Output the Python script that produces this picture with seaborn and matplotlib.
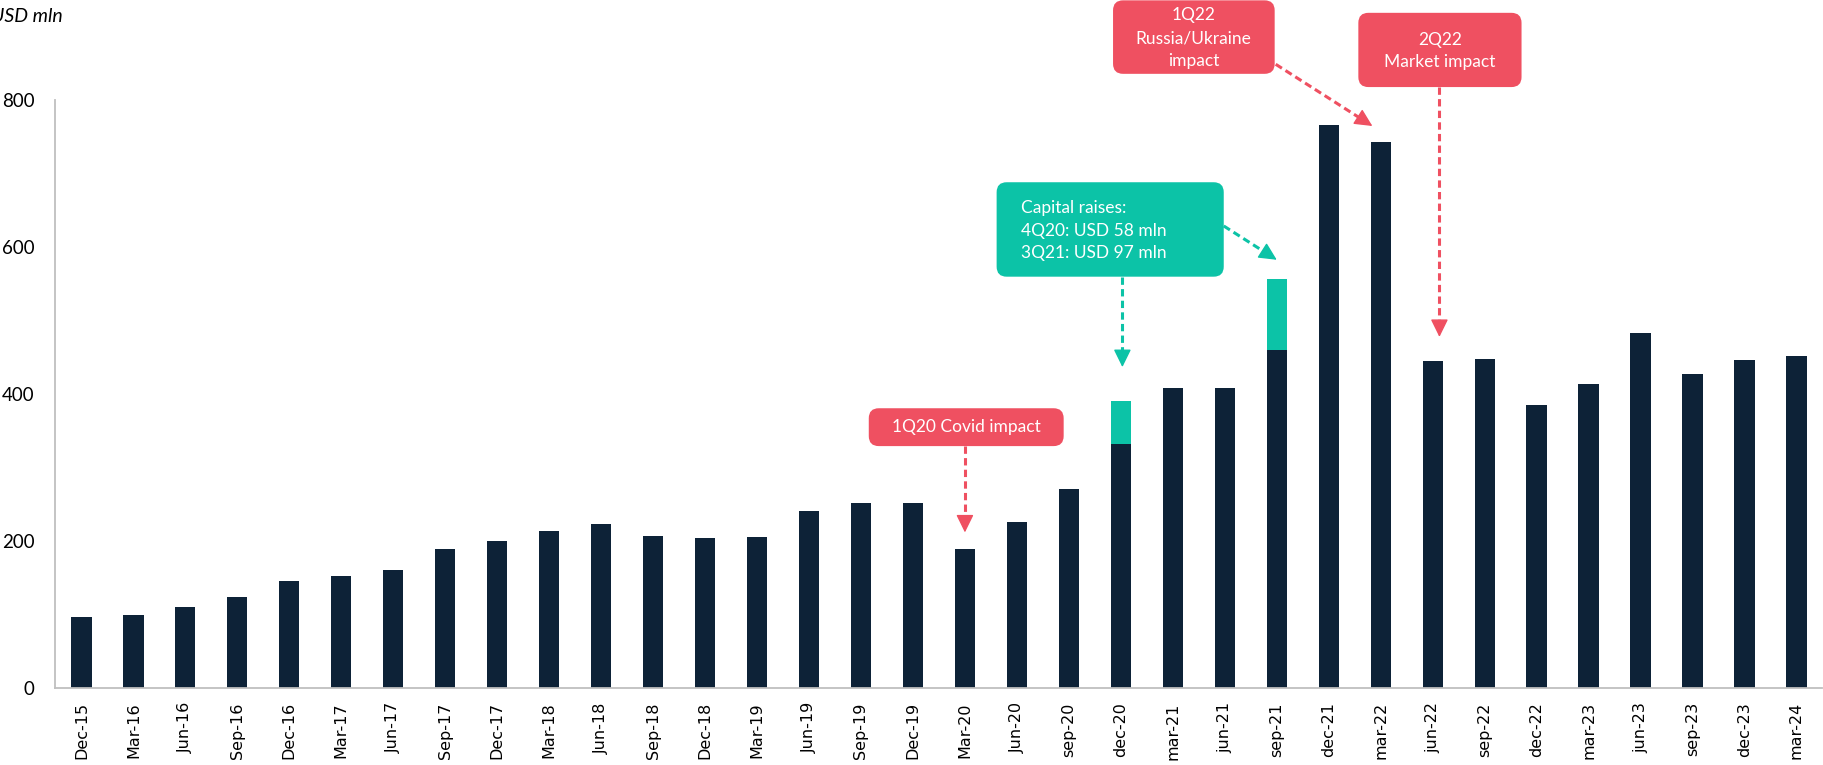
import numpy as np
import pandas as pd
import matplotlib
matplotlib.use("Agg")
import matplotlib.pyplot as plt
import seaborn as sns
from matplotlib.patches import FancyBboxPatch
from matplotlib.transforms import IdentityTransform

# ---------------- data ----------------
quarters = ["Dec-15", "Mar-16", "Jun-16", "Sep-16", "Dec-16", "Mar-17", "Jun-17", "Sep-17",
            "Dec-17", "Mar-18", "Jun-18", "Sep-18", "Dec-18", "Mar-19", "Jun-19", "Sep-19",
            "Dec-19", "Mar-20", "Jun-20", "sep-20", "dec-20", "mar-21", "jun-21", "sep-21",
            "dec-21", "mar-22", "jun-22", "sep-22", "dec-22", "mar-23", "jun-23", "sep-23",
            "dec-23", "mar-24"]
equity = [97, 100, 111, 124, 146, 153, 161, 189, 201, 214, 223, 207, 204, 206, 241, 252,
          252, 189, 226, 271, 333, 408, 408, 460, 767, 743, 445, 448, 386, 414, 483, 427,
          446, 452]
capital_raise = [0] * 20 + [58, 0, 0, 97] + [0] * 10
yticks = [0, 200, 400, 600, 800]

NAVY = "#0D2237"
TEAL = "#0CC3A7"
RED = "#EF5061"
GREY = "#BFBFBF"

df = pd.DataFrame({"quarter": quarters, "equity": equity, "capital": capital_raise})
df["total"] = df["equity"] + df["capital"]

sns.set_theme(style="white")
plt.rcParams["font.family"] = ["Lato", "DejaVu Sans"]

fig = plt.figure(figsize=(18.23, 7.65), dpi=100)
ax = fig.add_axes([0.0304, 0.1003, 0.9693, 0.7686])

sns.barplot(data=df, x="quarter", y="total", color=TEAL, saturation=1, width=0.39,
            errorbar=None, ax=ax, zorder=2, edgecolor="none", linewidth=0)
sns.barplot(data=df, x="quarter", y="equity", color=NAVY, saturation=1, width=0.39,
            errorbar=None, ax=ax, zorder=2, edgecolor="none", linewidth=0)

ax.set_xlim(-0.5, len(quarters) - 0.5)
ax.set_ylim(0, 800)
ax.set_yticks(yticks)
ax.set_yticklabels([str(v) for v in yticks])
ax.set_xlabel("")
ax.set_ylabel("")
ax.tick_params(axis="y", length=0, pad=15, labelsize=13.5, labelcolor="#000000")
ax.tick_params(axis="x", length=0, pad=10, labelsize=11.5, labelcolor="#000000")
for lbl in ax.get_xticklabels():
    lbl.set_rotation(90)
    lbl.set_fontfamily("DejaVu Sans")
for s in ["top", "right"]:
    ax.spines[s].set_visible(False)
for s in ["left", "bottom"]:
    ax.spines[s].set_color(GREY)
    ax.spines[s].set_linewidth(1.3)

fig.text(63 / 1823, 1 - 16 / 765, "USD mln", ha="right", va="center",
         fontsize=14, style="italic", color="#000000")


def rbox(x0, x1, y0, y1, color, r=10):
    T = ax.transData
    px0, py0 = T.transform((x0, y0))
    px1, py1 = T.transform((x1, y1))
    p = FancyBboxPatch((px0, py0), px1 - px0, py1 - py0,
                       boxstyle=f"round,pad=0,rounding_size={r}",
                       transform=IdentityTransform(), facecolor=color,
                       edgecolor="none", clip_on=False, zorder=3)
    ax.add_artist(p)


def dashed_arrow(start, tip, color, head=15):
    T = ax.transData
    p0 = np.array(T.transform(start))
    p1 = np.array(T.transform(tip))
    u = (p1 - p0) / np.hypot(*(p1 - p0))
    b = T.inverted().transform(p1 - u * head)
    ax.plot([start[0], b[0]], [start[1], b[1]], color=color, lw=2.2,
            ls=(0, (2.4, 1.4)), clip_on=False, zorder=4, dash_capstyle="butt")
    ax.annotate("", xy=tip, xytext=(b[0], b[1]), xycoords="data",
                arrowprops=dict(arrowstyle="-|>,head_length=0.55,head_width=0.27",
                                mutation_scale=20, color=color, lw=1,
                                shrinkA=0, shrinkB=0),
                annotation_clip=False, zorder=4)


TXT = dict(color="white", fontsize=12.5, va="center", zorder=5, clip_on=False)

# Covid
rbox(15.15, 18.9, 329.5, 381, RED)
ax.text(17.02, 355, "1Q20 Covid impact", ha="center", **TXT)
dashed_arrow((17.0, 329.5), (17.0, 212), RED)

# Capital raises
rbox(17.61, 21.98, 560, 688.5, TEAL)
for yy, s in zip([653, 622.5, 592], ["Capital raises:", "4Q20: USD 58 mln", "3Q21: USD 97 mln"]):
    ax.text(18.08, yy, s, ha="left", **TXT)
dashed_arrow((20.03, 560), (20.03, 437), TEAL)
dashed_arrow((21.98, 629), (23.0, 583), TEAL)

# Russia / Ukraine
rbox(19.85, 22.96, 836, 936, RED)
for yy, s in zip([915.6, 883.8, 854], ["1Q22", "Russia/Ukraine", "impact"]):
    ax.text(21.4, yy, s, ha="center", **TXT)
dashed_arrow((22.98, 849), (24.84, 765), RED)

# Market impact
rbox(24.57, 27.71, 818, 919, RED)
for yy, s in zip([881.5, 852], ["2Q22", "Market impact"]):
    ax.text(26.14, yy, s, ha="center", **TXT)
dashed_arrow((26.13, 818), (26.13, 478), RED)

fig.savefig("out.png", dpi=100)
